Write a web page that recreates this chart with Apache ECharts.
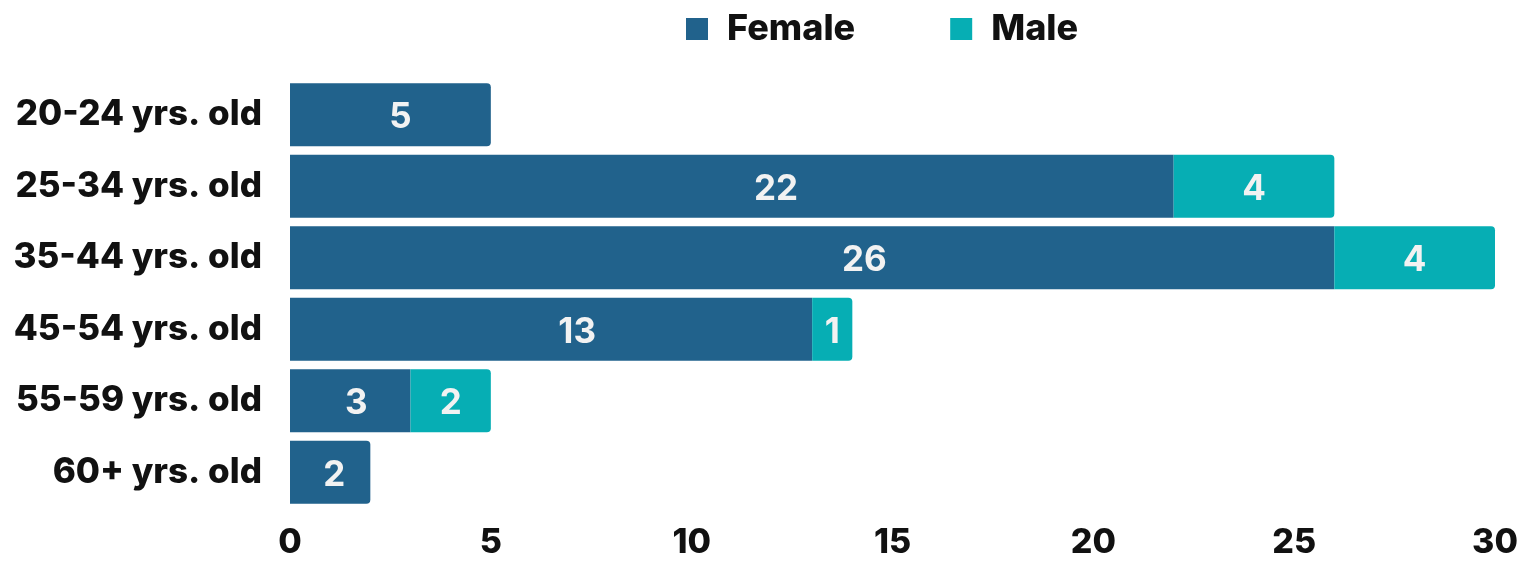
<!DOCTYPE html>
<html>
<head>
<meta charset="utf-8">
<script src="https://cdn.jsdelivr.net/npm/echarts@6/dist/echarts.min.js"></script>
<style>
  html, body { margin: 0; padding: 0; background: #fff; }
  #chart { width: 1535px; height: 562px; }
</style>
</head>
<body>
<div id="chart"></div>
<script>
// chart data
const ageGroups = ['20-24 yrs. old', '25-34 yrs. old', '35-44 yrs. old', '45-54 yrs. old', '55-59 yrs. old', '60+ yrs. old'];
const female = [5, 22, 26, 13, 3, 2];
const male = [0, 4, 4, 1, 2, 0];
const xTicks = [0, 5, 10, 15, 20, 25, 30];

const FEMALE_COLOR = '#21628c';
const MALE_COLOR = '#06aeb4';
const font = 'Inter, "Noto Sans", sans-serif';

// round only the right end of the last segment in each row
const femaleData = female.map((v, i) => ({
  value: v,
  itemStyle: { borderRadius: male[i] ? 0 : [0, 4, 4, 0] },
}));
const maleData = male.map((v) => ({
  value: v || null,
  itemStyle: { borderRadius: [0, 4, 4, 0] },
}));

const barLabel = {
  show: true,
  color: '#f2f2f2',
  fontFamily: font,
  fontWeight: 'bold',
  fontSize: 35,
  align: 'center',
  verticalAlign: 'middle',
  offset: [0, 3],
};

const chart = echarts.init(document.getElementById('chart'));
chart.setOption({
  animation: false,
  legend: {
    top: 6,
    left: 681,
    itemWidth: 22,
    itemHeight: 22,
    itemGap: 95,
    icon: 'rect',
    textStyle: { fontFamily: font, fontWeight: 800, fontSize: 36, color: '#111', padding: [0, 0, 0, 14] },
    data: ['Female', 'Male'],
  },
  grid: { left: 290, right: 40, top: 79, bottom: 54 },
  xAxis: {
    type: 'value',
    min: 0,
    max: 30,
    interval: 5,
    splitLine: { show: false },
    axisLine: { show: false },
    axisTick: { show: false },
    axisLabel: {
      margin: 18,
      fontFamily: font,
      fontWeight: 800,
      fontSize: 34,
      color: '#111',
      formatter: (v) => (xTicks.includes(v) ? String(v) : ''),
    },
  },
  yAxis: {
    type: 'category',
    inverse: true,
    data: ageGroups,
    axisLine: { show: false },
    axisTick: { show: false },
    axisLabel: { margin: 28, fontFamily: font, fontWeight: 800, fontSize: 35, color: '#111' },
  },
  series: [
    {
      name: 'Female',
      type: 'bar',
      stack: 'total',
      barCategoryGap: '12%',
      itemStyle: { color: FEMALE_COLOR },
      label: Object.assign({ position: ['55%', '50%'] }, barLabel),
      data: femaleData,
    },
    {
      name: 'Male',
      type: 'bar',
      stack: 'total',
      itemStyle: { color: MALE_COLOR },
      label: Object.assign({ position: ['50%', '50%'] }, barLabel),
      data: maleData,
    },
  ],
});
</script>
</body>
</html>
